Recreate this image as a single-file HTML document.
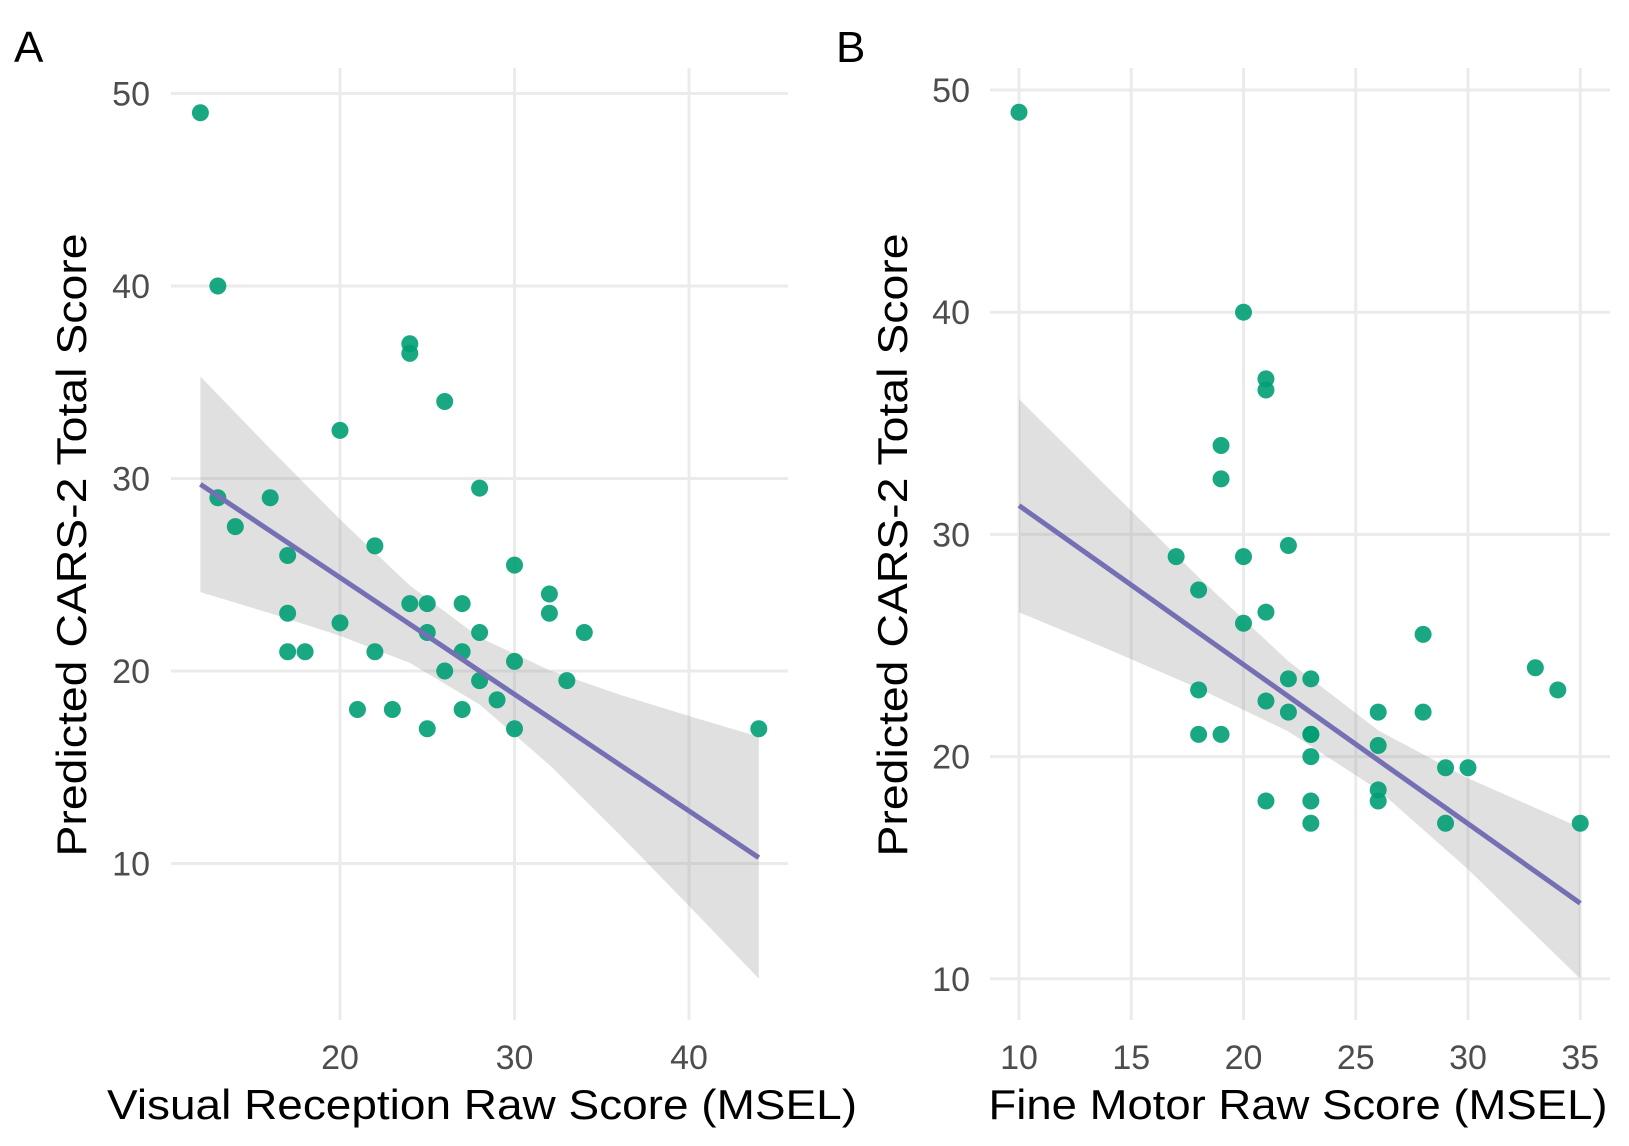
<!DOCTYPE html>
<html><head><meta charset="utf-8"><style>
html,body{margin:0;padding:0;background:#fff;}
svg{display:block;font-family:"Liberation Sans",Arial,sans-serif;}
</style></head><body>
<svg id="chart" width="1629" height="1146" viewBox="0 0 1629 1146" xmlns="http://www.w3.org/2000/svg"></svg>
<script>
// Panel A data
const aX = [12,13,13,14,16,17,17,17,18,20,20,21,22,22,23,24,24,24,25,25,25,26,26,27,27,27,28,28,28,29,30,30,30,32,32,33,34,44];
const aY = [49,40,29,27.5,29,26,23,21,21,32.5,22.5,18,26.5,21,18,37,36.5,23.5,23.5,22,17,34,20,23.5,21,18,29.5,22,19.5,18.5,25.5,20.5,17,24,23,19.5,22,17];
const aXTicks = [20,30,40];
const aYTicks = [10,20,30,40,50];
// Panel A fitted line and confidence band
const aFitX = [12,16,20,24,28,32,36,40,44];
const aFitY = [29.7,27.28,24.85,22.43,20.0,17.58,15.15,12.73,10.3];
const aUpper = [35.3,31.55,27.87,24.44,21.74,20.04,18.78,17.66,16.58];
const aLower = [24.1,23.0,21.83,20.42,18.26,15.12,11.52,7.8,4.02];
// Panel B data
const bX = [10,20,21,21,19,19,17,20,22,18,21,20,28,33,34,22,23,18,21,22,26,28,23,23,18,19,26,23,29,30,26,26,21,23,23,29,35];
const bY = [49,40,37,36.5,34,32.5,29,29,29.5,27.5,26.5,26,25.5,24,23,23.5,23.5,23,22.5,22,22,22,21,21,21,21,20.5,20,19.5,19.5,18.5,18,18,18,17,17,17];
const bXTicks = [10,15,20,25,30,35];
const bYTicks = [10,20,30,40,50];
const bFitX = [10,14,18,22,26,30,35];
const bFitY = [31.3,28.44,25.57,22.71,19.84,16.98,13.4];
const bUpper = [36.1,32.06,28.07,24.29,21.18,19.03,16.8];
const bLower = [26.5,24.82,23.07,21.13,18.5,14.93,10.0];

const NS="http://www.w3.org/2000/svg";
const svg=document.getElementById('chart');
function mk(tag,attrs,parent){const e=document.createElementNS(NS,tag);for(const k in attrs)e.setAttribute(k,attrs[k]);(parent||svg).appendChild(e);return e;}

function panel(cfg){
  const g=mk('g',{});
  
  
  const sx=v=>cfg.x0px+(v-cfg.x0)*cfg.xs;
  const sy=v=>cfg.y0px-(v-cfg.y0)*cfg.ys;
  cfg.yt.forEach(t=>{
    const l=mk('line',{x1:cfg.left,x2:cfg.right,y1:sy(t),y2:sy(t),stroke:'#ebebeb','stroke-width':3},g);
    
    
    const tx=mk('text',{x:cfg.ytx,y:sy(t)+12,'text-anchor':'end','font-size':34,fill:'#4d4d4d'},g);
    tx.textContent=t;
    
    
  });
  cfg.xt.forEach(t=>{
    const l=mk('line',{x1:sx(t),x2:sx(t),y1:cfg.top,y2:cfg.bottom,stroke:'#ebebeb','stroke-width':3},g);
    
    
    const tx=mk('text',{x:sx(t),y:1069,'text-anchor':'middle','font-size':34,fill:'#4d4d4d'},g);
    tx.textContent=t;
    
    
  });
  const up=cfg.fx.map((x,i)=>[sx(x),sy(cfg.up[i])]);
  const lo=cfg.fx.map((x,i)=>[sx(x),sy(cfg.lo[i])]).reverse();
  const pts=up.concat(lo).map(p=>p[0].toFixed(1)+','+p[1].toFixed(1)).join(' ');
  const rib=mk('polygon',{points:pts,fill:'#999999','fill-opacity':0.3},g);
  
  
  cfg.xd.forEach((x,i)=>{
    const c=mk('circle',{cx:sx(x),cy:sy(cfg.yd[i]),r:8.5,fill:'#009e73','fill-opacity':0.9},g);
    
    
  });
  const lp=cfg.fx.map((x,i)=>sx(x).toFixed(1)+','+sy(cfg.fy[i]).toFixed(1)).join(' ');
  const ln=mk('polyline',{points:lp,fill:'none',stroke:'#7570b3','stroke-width':5},g);
  
  
  const xt=mk('text',{x:cfg.xtc,y:1119,'text-anchor':'middle','font-size':42,fill:'#000',textLength:cfg.xtl,lengthAdjust:'spacingAndGlyphs'},g);
  xt.textContent=cfg.xtitle;
  
  
  const yt=mk('text',{x:0,y:0,'text-anchor':'middle','font-size':42,fill:'#000',textLength:623,lengthAdjust:'spacingAndGlyphs',transform:`translate(${cfg.ytc},545) rotate(-90)`},g);
  yt.textContent='Predicted CARS-2 Total Score';
  
  
  const pl=mk('text',{x:cfg.plx,y:62,'font-size':44,fill:'#000'},g);
  pl.textContent=cfg.label;
  
  
}

panel({name:'panel-a',xd:aX,yd:aY,xt:aXTicks,yt:aYTicks,fx:aFitX,fy:aFitY,up:aUpper,lo:aLower,x0:20,x0px:340,xs:17.45,y0:50,y0px:93.5,ys:19.25,
  left:171,right:788,top:68,bottom:1020,ytx:150,xtc:482,xtl:750,xtitle:'Visual Reception Raw Score (MSEL)',ytc:86,plx:14,label:'A'});
panel({name:'panel-b',xd:bX,yd:bY,xt:bXTicks,yt:bYTicks,fx:bFitX,fy:bFitY,up:bUpper,lo:bLower,x0:10,x0px:1019,xs:22.45,y0:50,y0px:90,ys:22.22,
  left:990,right:1610,top:68,bottom:1020,ytx:970,xtc:1298,xtl:619,xtitle:'Fine Motor Raw Score (MSEL)',ytc:907,plx:836,label:'B'});
</script>
</body></html>
